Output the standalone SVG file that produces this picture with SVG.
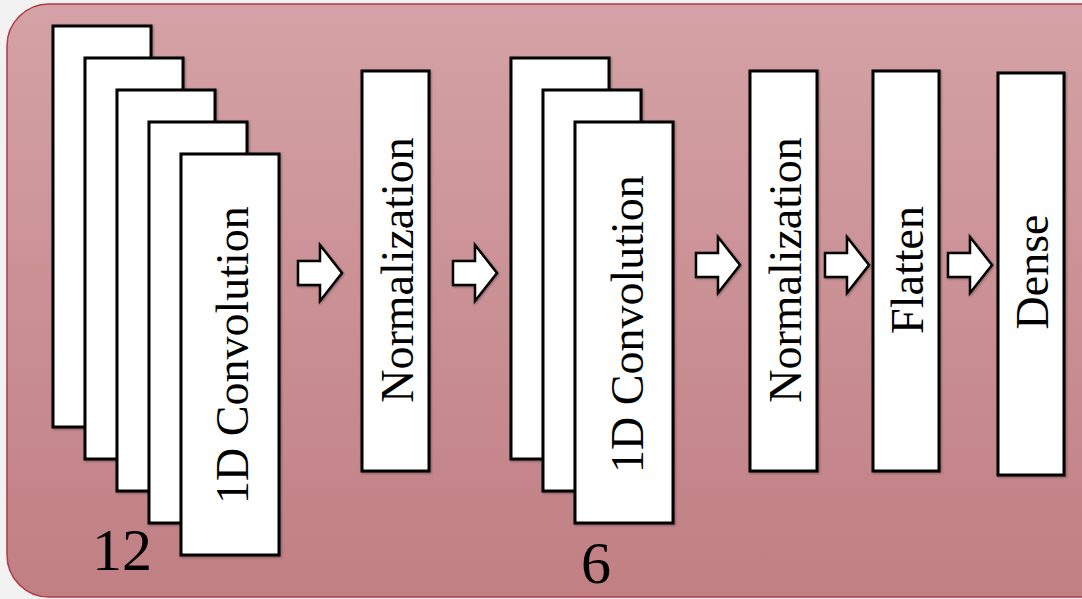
<svg xmlns="http://www.w3.org/2000/svg" width="1082" height="599" viewBox="0 0 1082 599">
<defs>
<linearGradient id="bg" x1="0" y1="0" x2="0" y2="1">
<stop offset="0" stop-color="#d4a2a6"/>
<stop offset="1" stop-color="#c07f83"/>
</linearGradient>
<filter id="sh" x="-10%" y="-10%" width="130%" height="130%">
<feDropShadow dx="1" dy="1" stdDeviation="1" flood-color="#000" flood-opacity="0.35"/>
</filter>
<path id="arr" d="M0,-12 H22 V-28 L44,0 L22,28 V12 H0 Z"/>
</defs>
<style>
.box{fill:#fff;stroke:#000;stroke-width:3;filter:url(#sh)}
.lbl{font-family:"Liberation Serif","Times New Roman",serif;font-size:46px;fill:#000;text-anchor:middle;dominant-baseline:central}
.num{font-family:"Liberation Serif","Times New Roman",serif;font-size:60px;fill:#000;text-anchor:middle}
.ar{fill:#fff;stroke:#000;stroke-width:2.5;stroke-linejoin:miter;filter:url(#sh)}
</style>
<rect x="0" y="0" width="1082" height="599" fill="#f2f2f2"/>
<rect x="7" y="4" width="1115" height="593" rx="42" ry="42" fill="url(#bg)" stroke="#b03a48" stroke-width="1.5"/>
<g id="conv1">
<rect class="box" x="53" y="26" width="98" height="401"/>
<rect class="box" x="85" y="58" width="98" height="401"/>
<rect class="box" x="117" y="90" width="98" height="401"/>
<rect class="box" x="149" y="122" width="98" height="401"/>
<rect class="box" x="181" y="154" width="98" height="401"/>
<text class="lbl" transform="translate(232,355) rotate(-90)">1D Convolution</text>
<text class="num" x="122" y="570">12</text>
</g>
<g id="norm1">
<rect class="box" x="362" y="71" width="67" height="400"/>
<text class="lbl" transform="translate(397,270) rotate(-90)">Normalization</text>
</g>
<g id="conv2">
<rect class="box" x="511" y="58" width="98" height="401"/>
<rect class="box" x="543" y="90" width="98" height="401"/>
<rect class="box" x="575" y="122" width="98" height="401"/>
<text class="lbl" transform="translate(627,324) rotate(-90)">1D Convolution</text>
<text class="num" x="596" y="583">6</text>
</g>
<g id="norm2">
<rect class="box" x="750" y="71" width="67" height="400"/>
<text class="lbl" transform="translate(785,270) rotate(-90)">Normalization</text>
</g>
<g id="flatten">
<rect class="box" x="873" y="71" width="66" height="400"/>
<text class="lbl" transform="translate(907,270) rotate(-90)">Flatten</text>
</g>
<g id="dense">
<rect class="box" x="998" y="73" width="66" height="402"/>
<text class="lbl" transform="translate(1032,272) rotate(-90)">Dense</text>
</g>
<g id="connectors">
<use href="#arr" class="ar" x="298" y="273"/>
<use href="#arr" class="ar" x="453" y="273"/>
<use href="#arr" class="ar" x="696" y="265"/>
<use href="#arr" class="ar" x="825" y="265"/>
<use href="#arr" class="ar" x="948" y="265"/>
</g>
</svg>
